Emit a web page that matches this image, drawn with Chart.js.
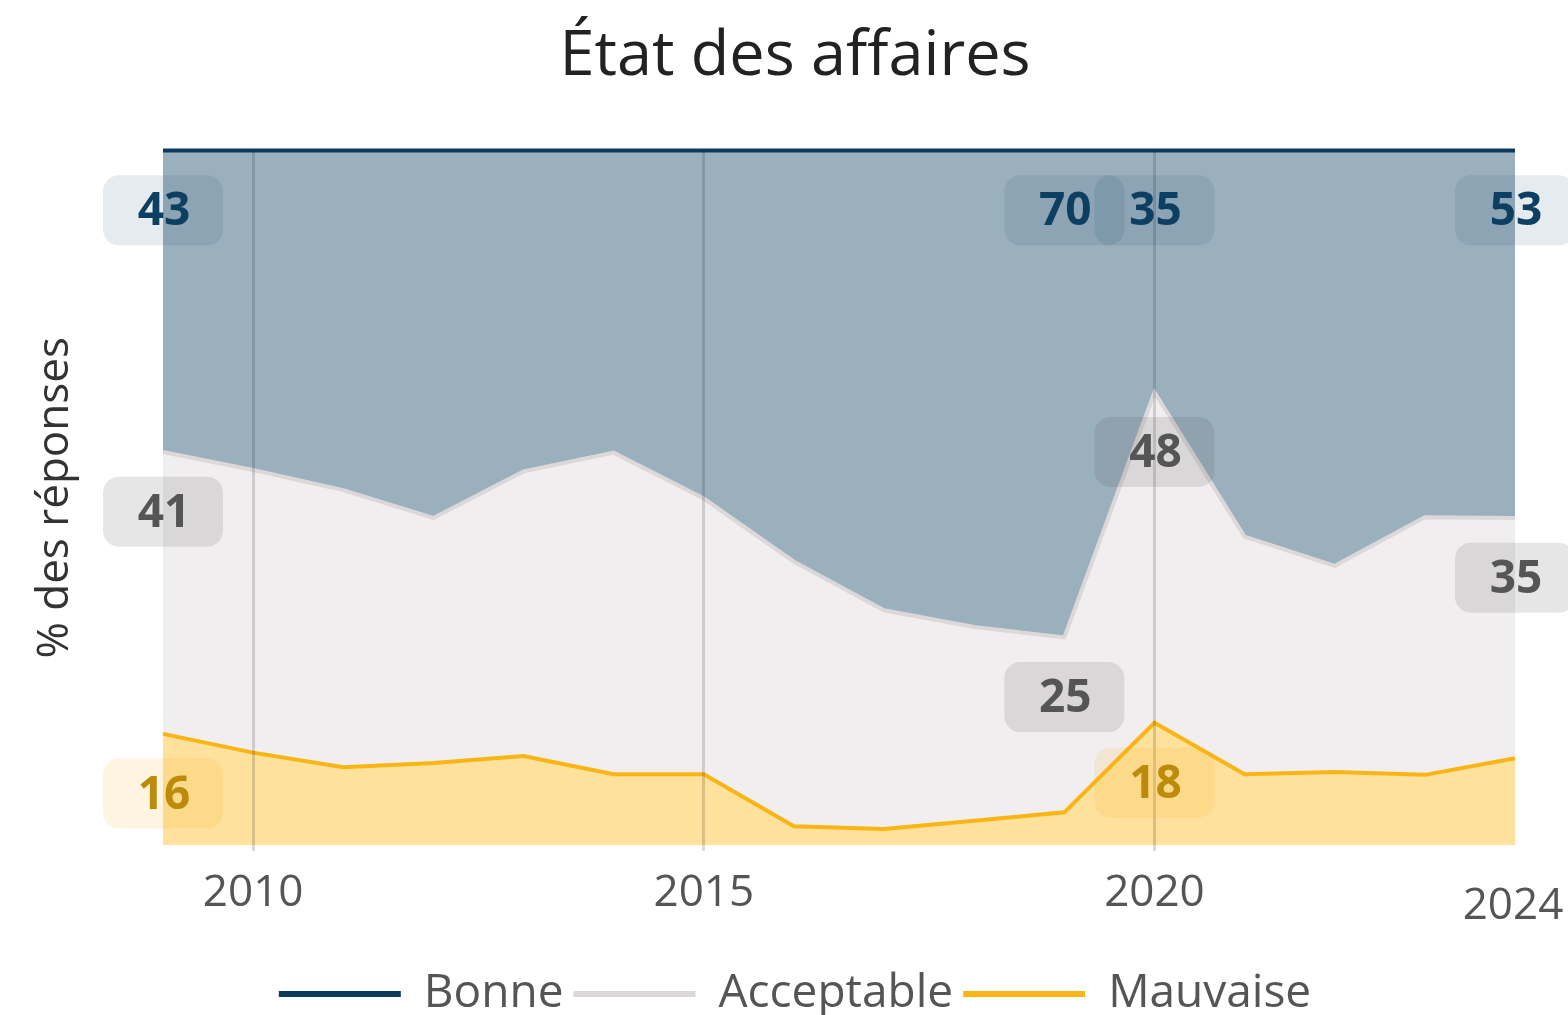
<!DOCTYPE html>
<html lang="fr">
<head>
<meta charset="utf-8">
<title>État des affaires</title>
<script src="https://cdn.jsdelivr.net/npm/chart.js@4.4.1/dist/chart.umd.min.js"></script>
<style>
  html, body { margin: 0; padding: 0; background: #fff; }
  #wrap { width: 1568px; height: 1015px; }
</style>
</head>
<body>
<div id="wrap"><canvas id="diagram"></canvas></div>
<script>
// années et parts des réponses (%)
const years = [2009, 2010, 2011, 2012, 2013, 2014, 2015, 2016, 2017, 2018, 2019, 2020, 2021, 2022, 2023, 2024];
const bonne = [43.4, 46.0, 48.9, 52.9, 46.2, 43.5, 50.1, 59.2, 66.2, 68.6, 70.1, 34.8, 55.6, 59.8, 52.8, 52.9];
const acceptable = [40.6, 40.7, 39.9, 35.3, 41.0, 46.3, 39.7, 38.1, 31.5, 27.9, 25.2, 47.6, 34.2, 29.7, 37.1, 34.6];
const mauvaise = [16.0, 13.3, 11.2, 11.8, 12.8, 10.2, 10.2, 2.7, 2.3, 3.5, 4.7, 17.6, 10.2, 10.5, 10.1, 12.5];

const xTicks = [2010, 2015, 2020, 2024];

// années avec étiquette de valeur
const labelYearsBonne = [2009, 2019, 2020, 2024];
const labelYearsAcceptable = [2009, 2019, 2020, 2024];
const labelYearsMauvaise = [2009, 2020];

const FONT = '"Open Sans", "Noto Sans", sans-serif';

const toPoints = (arr) => arr.map((v, i) => ({ x: years[i], y: v }));

// ordre d'empilement : du bas vers le haut
const datasets = [
  {
    label: "Mauvaise",
    data: toPoints(mauvaise),
    borderColor: "#f9b514",
    backgroundColor: "#fde19c",
    fill: "origin",
    labelYears: labelYearsMauvaise,
    textColor: "#bd8b0c",
    boxColor: "rgba(249,181,20,0.13)",
  },
  {
    label: "Acceptable",
    data: toPoints(acceptable),
    borderColor: "#dcd7d9",
    backgroundColor: "#f0eeef",
    fill: "-1",
    labelYears: labelYearsAcceptable,
    textColor: "#565555",
    boxColor: "rgba(80,80,80,0.14)",
  },
  {
    label: "Bonne",
    data: toPoints(bonne),
    borderColor: "#0d3b5e",
    backgroundColor: "#9bb0bd",
    fill: "-1",
    labelYears: labelYearsBonne,
    textColor: "#0d3f63",
    boxColor: "rgba(13,59,94,0.10)",
  },
];
datasets.forEach((ds) => {
  ds.borderWidth = 4;
  ds.pointRadius = 0;
  ds.tension = 0;
  ds.clip = 4;
});

// étiquettes de valeurs dans des boîtes arrondies
const valueLabels = {
  id: "valueLabels",
  afterDraw(chart) {
    const { ctx } = chart;
    const xs = chart.scales.x;
    const ys = chart.scales.y;
    ctx.save();
    ctx.font = "bold 46px " + FONT;
    ctx.textAlign = "center";
    ctx.textBaseline = "middle";
    chart.data.datasets.forEach((ds, di) => {
      ds.labelYears.forEach((yr) => {
        const idx = years.indexOf(yr);
        let top = 0;
        for (let k = 0; k <= di; k++) top += chart.data.datasets[k].data[idx].y;
        const px = xs.getPixelForValue(yr);
        const py = ys.getPixelForValue(top - 8.6);
        ctx.fillStyle = ds.boxColor;
        ctx.beginPath();
        ctx.roundRect(px - 60, py - 35, 120, 70, 16);
        ctx.fill();
        ctx.fillStyle = ds.textColor;
        ctx.fillText(String(Math.round(ds.data[idx].y)), px + 1, py + 2);
      });
    });

    // dernière année, un peu plus bas que les autres
    ctx.font = "44px " + FONT;
    ctx.fillStyle = "#555";
    ctx.fillText("2024", xs.getPixelForValue(2024) - 2, xs.top + 61);
    ctx.restore();
  },
};

const config = {
  type: "line",
  data: { datasets },
  options: {
    responsive: true,
    maintainAspectRatio: false,
    animation: false,
    devicePixelRatio: 1,
    layout: { padding: { left: 75, right: 53, top: 0, bottom: -12 } },
    plugins: {
      title: {
        display: true,
        text: "État des affaires",
        color: "#222",
        font: { family: FONT, size: 63, weight: "normal" },
        padding: { top: 19, bottom: 56 },
      },
      legend: {
        position: "bottom",
        reverse: true,
        labels: {
          boxWidth: 122,
          boxHeight: 6,
          padding: 10,
          color: "#555",
          font: { family: FONT, size: 46 },
          generateLabels: (chart) =>
            chart.data.datasets.map((ds, i) => ({
              text: ds.label,
              fillStyle: ds.borderColor,
              strokeStyle: ds.borderColor,
              lineWidth: 0,
              fontColor: "#555",
              datasetIndex: i,
              hidden: false,
            })),
        },
      },
      tooltip: { enabled: false },
    },
    scales: {
      x: {
        type: "linear",
        min: 2009,
        max: 2024,
        afterBuildTicks: (axis) => {
          axis.ticks = xTicks.map((v) => ({ value: v }));
        },
        afterFit: (s) => {
          s.height = 116;
        },
        ticks: {
          color: "#555",
          font: { family: FONT, size: 44 },
          padding: 16,
          maxRotation: 0,
          autoSkip: false,
          callback: (v) => (v === 2024 ? "" : String(v)),
        },
        grid: {
          z: 1,
          color: (c) => (c.tick && c.tick.value === 2024 ? "rgba(0,0,0,0)" : "rgba(0,0,0,0.14)"),
          lineWidth: 3,
          tickLength: 6,
        },
        border: { display: false },
      },
      y: {
        stacked: true,
        min: 0,
        max: 100,
        afterFit: (s) => {
          s.width = 88;
        },
        ticks: { display: false },
        grid: { display: false },
        border: { display: false },
        title: {
          display: true,
          text: "% des réponses",
          color: "#333",
          font: { family: FONT, size: 44 },
          padding: { top: -46, bottom: 0 },
        },
      },
    },
  },
  plugins: [valueLabels],
};

const canvas = document.getElementById("diagram");
const chart = new Chart(canvas, config);
</script>
</body>
</html>
